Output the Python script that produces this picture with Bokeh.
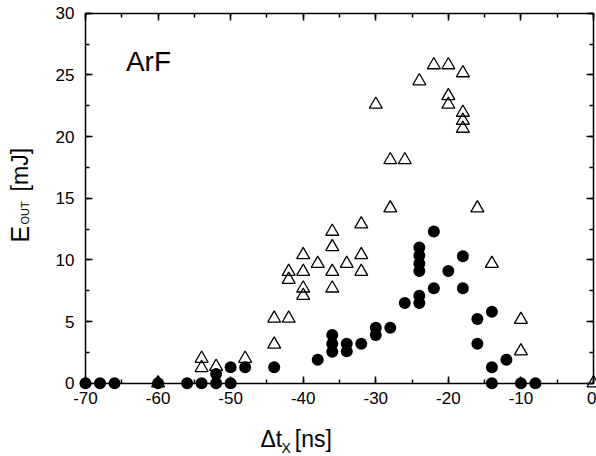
from bokeh.plotting import figure
from bokeh.models import Range1d, LinearAxis, SingleIntervalTicker, Label, CustomJSTickFormatter
from bokeh.embed import file_html
from bokeh.resources import INLINE

# ---- data ----
tri_x = [-60, -54, -54, -52, -48, -44, -44, -42, -42, -42, -40, -40, -40, -40, -38,
         -36, -36, -36, -36, -34, -32, -32, -32, -30, -28, -28, -26, -24, -22, -20,
         -20, -20, -18, -18, -18, -18, -16, -14, -10, -10, 0]
tri_y = [0.0, 2.0, 1.25, 1.35, 2.0, 5.25, 3.15, 5.25, 9.05, 8.4, 10.4, 9.05, 7.7, 7.1, 9.7,
         12.3, 11.05, 9.05, 7.7, 9.7, 12.9, 10.4, 9.05, 22.6, 18.1, 14.2, 18.1, 24.5, 25.8, 25.8,
         23.3, 22.6, 25.15, 21.95, 21.3, 20.65, 14.2, 9.7, 5.15, 2.6, 0.0]

dot_x = [-70, -68, -66, -60, -56, -54, -52, -52, -50, -50, -48, -44, -38, -36, -36, -36,
         -34, -34, -32, -30, -30, -28, -26, -24, -24, -24, -24, -24, -24, -22, -22, -20,
         -18, -18, -16, -16, -14, -14, -14, -12, -10, -8]
dot_y = [0, 0, 0, 0, 0, 0, 0, 0.75, 0, 1.3, 1.3, 1.3, 1.9, 3.9, 3.2, 2.55,
         3.2, 2.6, 3.2, 4.5, 3.9, 4.5, 6.5, 6.5, 7.1, 9.1, 9.7, 10.35, 11.0, 12.3, 7.7, 9.1,
         10.3, 7.7, 5.2, 3.2, 5.8, 1.3, 0, 1.9, 0, 0]

x_ticks = [-70, -60, -50, -40, -30, -20, -10, 0]
y_ticks = [0, 5, 10, 15, 20, 25, 30]
X_MIN, X_MAX = -70, 0
Y_MIN, Y_MAX = 0, 30

FONT = "Liberation Sans"

# plot box geometry in pixels (canvas 596 x 456)
W, H = 596, 456
BOX_L, BOX_R, BOX_T, BOX_B = 85.0, 593.0, 12.7, 382.7
xs = (X_MAX - X_MIN) / (BOX_R - BOX_L)
ys = (Y_MAX - Y_MIN) / (BOX_B - BOX_T)
x_range = Range1d(X_MIN - BOX_L * xs, X_MAX + (W - BOX_R) * xs)
y_range = Range1d(Y_MIN - (H - BOX_B) * ys, Y_MAX + BOX_T * ys)

p = figure(frame_width=W, frame_height=H, min_border=0,
           x_range=x_range, y_range=y_range,
           output_backend="svg", toolbar_location=None,
           x_axis_type=None, y_axis_type=None)
p.background_fill_color = "white"
p.border_fill_color = "white"
p.outline_line_color = None
p.xgrid.visible = False
p.ygrid.visible = False


def make_axis(interval, bounds, loc, show_labels, standoff):
    ax = LinearAxis(ticker=SingleIntervalTicker(interval=interval, num_minor_ticks=2),
                    bounds=bounds, fixed_location=loc)
    ax.axis_line_color = "black"
    ax.axis_line_width = 1.5
    ax.major_tick_in = 7
    ax.major_tick_out = 0
    ax.minor_tick_in = 4
    ax.minor_tick_out = 0
    ax.major_tick_line_width = 1.5
    ax.minor_tick_line_width = 1.5
    ax.major_tick_line_color = "black"
    ax.minor_tick_line_color = "black"
    ax.major_label_standoff = standoff
    ax.major_label_text_font = FONT
    ax.major_label_text_font_size = "17px"
    ax.major_label_text_color = "black"
    if not show_labels:
        ax.formatter = CustomJSTickFormatter(code="return ''")
        ax.major_label_standoff = 0
    return ax


xb = make_axis(10, (X_MIN, X_MAX), Y_MIN, True, 9)
xb.major_label_overrides = {t: str(t) for t in x_ticks}
p.add_layout(xb, "below")
p.add_layout(make_axis(10, (X_MIN, X_MAX), Y_MAX, False, 0), "above")

yl = make_axis(5, (Y_MIN, Y_MAX), X_MIN, True, 11)
yl.major_label_overrides = {t: str(t) for t in y_ticks}
p.add_layout(yl, "left")
p.add_layout(make_axis(5, (Y_MIN, Y_MAX), X_MAX, False, 0), "right")

# markers (drawn above the axes, as in the reference)
r1 = p.scatter(tri_x, tri_y, marker="triangle", size=13, fill_color=None,
               line_color="black", line_width=1.3)
r2 = p.scatter(dot_x, dot_y, marker="circle", size=12, fill_color="black",
               line_color="black", line_width=0)
r1.level = "annotation"
r2.level = "annotation"


def lab(x, y, text, size, angle=0):
    p.add_layout(Label(x=x, y=y, text=text, angle=angle, angle_units="deg",
                       text_font=FONT, text_font_size=size, text_baseline="alphabetic",
                       text_align="left", text_color="black"))


# in-plot label
lab(-64.43, 26.07, "ArF", "28px")

# x-axis title with subscript
lab(-45.89, -4.52, "\u0394t", "23px")
lab(-42.99, -5.25, "X", "14px")
lab(-41.15, -4.52, "[ns]", "23px")

# y-axis title with subscript (rotated)
lab(-79.07, 11.41, "E", "25px", 90)
lab(-78.34, 12.87, "OUT", "11px", 90)
lab(-79.07, 15.55, "[mJ]", "23px", 90)

open("out.html", "w").write(file_html(p, INLINE))
